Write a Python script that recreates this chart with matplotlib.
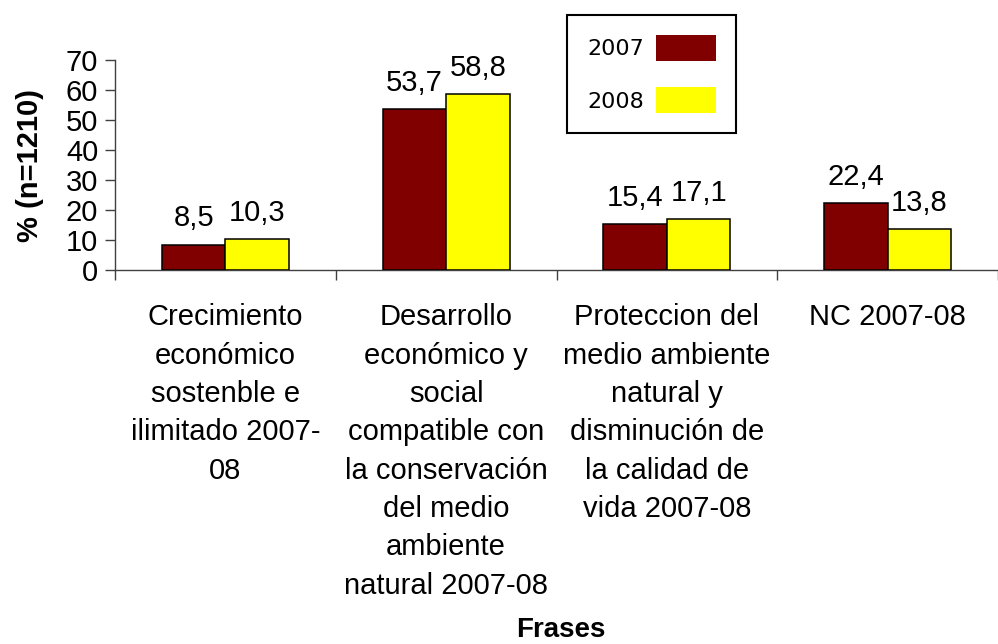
import numpy as np
import matplotlib.pyplot as plt

plt.rcParams['font.family'] = ['Liberation Sans', 'DejaVu Sans']

# data
categories = [
    'Crecimiento\neconómico\nsostenble e\nilimitado 2007-\n08',
    'Desarrollo\neconómico y\nsocial\ncompatible con\nla conservación\ndel medio\nambiente\nnatural 2007-08',
    'Proteccion del\nmedio ambiente\nnatural y\ndisminución de\nla calidad de\nvida 2007-08',
    'NC 2007-08',
]
values_2007 = [8.5, 53.7, 15.4, 22.4]
values_2008 = [10.3, 58.8, 17.1, 13.8]
series_labels = ['2007', '2008']
colors = ['#800000', '#FFFF00']

W, H = 998, 644
fig = plt.figure(figsize=(W / 100, H / 100), dpi=100)
ax = fig.add_axes([115 / W, 1 - 270 / H, (W - 115) / W, 210 / H])

x = np.arange(len(categories))
bw = 0.288
for i, (vals, lab, col) in enumerate(zip([values_2007, values_2008], series_labels, colors)):
    b = ax.bar(x + (i - 0.5) * bw, vals, bw, color=col, edgecolor='black',
               linewidth=1.1, label=lab, zorder=3)
    for rect, v in zip(b, vals):
        ax.annotate(f'{v:.1f}'.replace('.', ','),
                    (rect.get_x() + rect.get_width() / 2, rect.get_height()),
                    xytext=(0, 13), textcoords='offset points',
                    ha='center', va='baseline', fontsize=21)

ax.set_xlim(-0.5, -0.5 + (W - 115) / 224)
ax.set_ylim(0, 70)
ax.set_yticks(range(0, 71, 10))

# ticks at category boundaries, labels at centres
ax.set_xticks(np.arange(-0.5, len(categories), 1.0))
ax.set_xticklabels([])
ax.set_xticks(x, minor=True)
ax.set_xticklabels(categories, minor=True, fontsize=21, linespacing=1.47,
                   va='top', ha='center')
ax.tick_params(axis='x', which='minor', length=0, pad=24)
ax.tick_params(axis='x', which='major', length=7, width=1, color='#404040')
ax.tick_params(axis='y', length=7, width=1, color='#404040', labelsize=21, pad=5)

for s in ['top', 'right']:
    ax.spines[s].set_visible(False)
for s in ['left', 'bottom']:
    ax.spines[s].set_color('#404040')
    ax.spines[s].set_linewidth(1)

ax.set_ylabel('% (n=1210)', fontsize=21, fontweight='bold')
ax.yaxis.set_label_coords((44 - 115) / 883, 0.5)
ax.set_xlabel('Frases', fontsize=20, fontweight='bold')
ax.xaxis.set_label_coords((561 - 115) / 883, (270 - 617) / 210)
ax.xaxis.label.set_va('top')

leg = ax.legend(loc='upper left', bbox_to_anchor=(567 / W, 1 - 15 / H),
                bbox_transform=fig.transFigure, markerfirst=False,
                prop={'family': 'DejaVu Sans', 'size': 16},
                handlelength=2.7, handleheight=1.4, labelspacing=1.2,
                handletextpad=0.55, borderpad=0.9, borderaxespad=0,
                fancybox=False, framealpha=1)
leg.get_frame().set_edgecolor('black')
leg.get_frame().set_linewidth(1.5)
for h in leg.legend_handles:
    h.set_edgecolor('none')

fig.savefig('out.png', dpi=100)
